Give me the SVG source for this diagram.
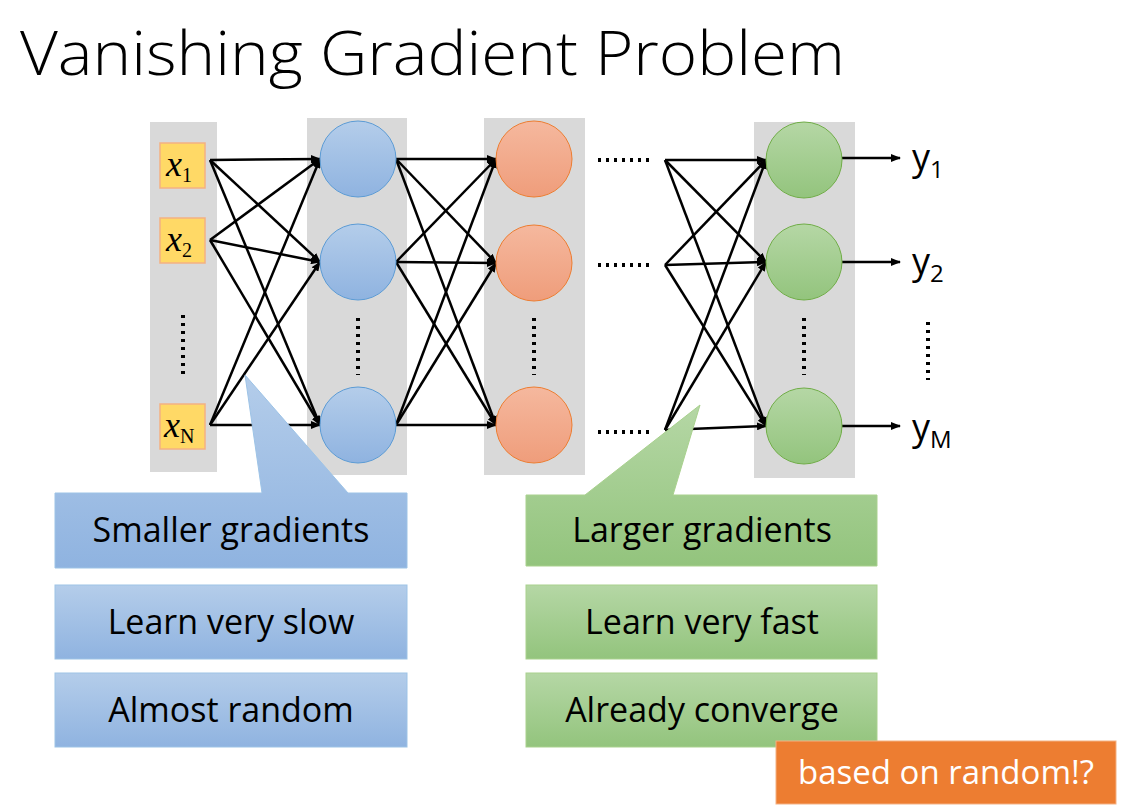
<svg xmlns="http://www.w3.org/2000/svg" width="1128" height="811" viewBox="0 0 1128 811">
<defs>
<linearGradient id="gb" x1="0" y1="0" x2="0" y2="1"><stop offset="0" stop-color="#b4cdea"/><stop offset="1" stop-color="#8fb3e0"/></linearGradient>
<linearGradient id="gg" x1="0" y1="0" x2="0" y2="1"><stop offset="0" stop-color="#b5d7a5"/><stop offset="1" stop-color="#93c47d"/></linearGradient>
<linearGradient id="go" x1="0" y1="0" x2="0" y2="1"><stop offset="0" stop-color="#f5b89e"/><stop offset="1" stop-color="#ef9d7b"/></linearGradient>
<marker id="ar" markerWidth="10" markerHeight="8" refX="9" refY="4" orient="auto" markerUnits="userSpaceOnUse"><path d="M0,0 L10,4 L0,8 z" fill="#000"/></marker>
<style>
.bar{fill:#d9d9d9}
.in{fill:#ffd966;stroke:#f4b183;stroke-width:1.5}
.b{fill:url(#gb);stroke:#5b9bd5}
.o{fill:url(#go);stroke:#ed7d31}
.g{fill:url(#gg);stroke:#70ad47}
.c line{stroke:#000;stroke-width:2.5;marker-end:url(#ar)}
.dot{stroke:#000;stroke-width:4;stroke-dasharray:3,5}
.t{font-family:"Open Sans",sans-serif;fill:#000}
.bb{fill:url(#gb);stroke:#9dc3e6}
.gb{fill:url(#gg);stroke:#a9d18e}
</style>
</defs>
<text x="20" y="75" class="t" font-size="60" font-weight="300" textLength="825" lengthAdjust="spacingAndGlyphs">Vanishing Gradient Problem</text>
<rect class="bar" x="150" y="122" width="67" height="350"/>
<rect class="bar" x="307" y="118" width="100" height="357"/>
<rect class="bar" x="484" y="118" width="101" height="357"/>
<rect class="bar" x="754" y="122" width="101" height="356"/>
<g id="x1"><rect class="in" x="160" y="143" width="45" height="45"/><text x="166" y="176" font-family="Liberation Serif,serif" font-style="italic" font-size="36">x<tspan font-size="20" font-style="normal" dy="6">1</tspan></text></g>
<g id="x2"><rect class="in" x="160" y="218" width="45" height="45"/><text x="166" y="251" font-family="Liberation Serif,serif" font-style="italic" font-size="36">x<tspan font-size="20" font-style="normal" dy="6">2</tspan></text></g>
<g id="xN"><rect class="in" x="160" y="404" width="45" height="45"/><text x="164" y="437" font-family="Liberation Serif,serif" font-style="italic" font-size="36">x<tspan font-size="20" font-style="normal" dy="6">N</tspan></text></g>
<line class="dot" x1="183" y1="315" x2="183" y2="374"/>
<line class="dot" x1="358" y1="318" x2="358" y2="375"/>
<line class="dot" x1="534" y1="318" x2="534" y2="375"/>
<line class="dot" x1="804" y1="318" x2="804" y2="375"/>
<line class="dot" x1="928" y1="322" x2="928" y2="380"/>
<line class="dot" x1="598" y1="160" x2="654" y2="160"/>
<line class="dot" x1="598" y1="265" x2="654" y2="265"/>
<line class="dot" x1="598" y1="432" x2="654" y2="432"/>
<g class="c">
<line x1="210" y1="160" x2="320" y2="159"/><line x1="210" y1="160" x2="320" y2="262"/><line x1="210" y1="160" x2="320" y2="425"/>
<line x1="210" y1="240" x2="320" y2="159"/><line x1="210" y1="240" x2="320" y2="262"/><line x1="210" y1="240" x2="320" y2="425"/>
<line x1="210" y1="425" x2="320" y2="159"/><line x1="210" y1="425" x2="320" y2="262"/><line x1="210" y1="425" x2="320" y2="425"/>
<line x1="396" y1="159" x2="496" y2="159"/><line x1="396" y1="159" x2="496" y2="263"/><line x1="396" y1="159" x2="496" y2="425"/>
<line x1="396" y1="262" x2="496" y2="159"/><line x1="396" y1="262" x2="496" y2="263"/><line x1="396" y1="262" x2="496" y2="425"/>
<line x1="396" y1="425" x2="496" y2="159"/><line x1="396" y1="425" x2="496" y2="263"/><line x1="396" y1="425" x2="496" y2="425"/>
<line x1="665" y1="160" x2="766" y2="160"/><line x1="665" y1="160" x2="766" y2="262"/><line x1="665" y1="160" x2="766" y2="426"/>
<line x1="665" y1="265" x2="766" y2="160"/><line x1="665" y1="265" x2="766" y2="262"/><line x1="665" y1="265" x2="766" y2="426"/>
<line x1="665" y1="430" x2="766" y2="160"/><line x1="665" y1="430" x2="766" y2="262"/><line x1="665" y1="430" x2="766" y2="426"/>
<line x1="842" y1="158" x2="900" y2="158"/><line x1="842" y1="262" x2="900" y2="262"/><line x1="842" y1="426" x2="900" y2="426"/>
</g>
<g id="h1"><circle class="b" cx="358" cy="159" r="38"/><circle class="b" cx="358" cy="262" r="38"/><circle class="b" cx="358" cy="425" r="38"/></g>
<g id="h2"><circle class="o" cx="534" cy="159" r="38"/><circle class="o" cx="534" cy="263" r="38"/><circle class="o" cx="534" cy="425" r="38"/></g>
<g id="out"><circle class="g" cx="804" cy="160" r="38"/><circle class="g" cx="804" cy="262" r="38"/><circle class="g" cx="804" cy="426" r="38"/></g>
<text x="912" y="170" class="t" font-size="36">y<tspan font-size="24" dy="8">1</tspan></text>
<text x="912" y="274" class="t" font-size="36">y<tspan font-size="24" dy="8">2</tspan></text>
<text x="912" y="440" class="t" font-size="36">y<tspan font-size="24" dy="8">M</tspan></text>
<g id="c1"><path class="bb" d="M55,493 H262 L245,375 L348,493 H407 V568 H55 Z"/><text x="231" y="542" class="t" font-size="34" text-anchor="middle">Smaller gradients</text></g>
<g id="c2"><rect class="bb" x="55" y="585" width="352" height="74"/><text x="231" y="634" class="t" font-size="34" text-anchor="middle">Learn very slow</text></g>
<g id="c3"><rect class="bb" x="55" y="673" width="352" height="74"/><text x="231" y="722" class="t" font-size="34" text-anchor="middle">Almost random</text></g>
<g id="c4"><path class="gb" d="M526,495 H585 L700,405 L673,495 H877 V566 H526 Z"/><text x="702" y="542" class="t" font-size="34" text-anchor="middle">Larger gradients</text></g>
<g id="c5"><rect class="gb" x="526" y="585" width="351" height="74"/><text x="702" y="634" class="t" font-size="34" text-anchor="middle">Learn very fast</text></g>
<g id="c6"><rect class="gb" x="526" y="673" width="351" height="74"/><text x="702" y="722" class="t" font-size="34" text-anchor="middle">Already converge</text></g>
<g id="c7"><rect x="776" y="741" width="340" height="63" fill="#ed7d31" stroke="#f4b183"/><text x="946" y="784" class="t" font-size="33" style="fill:#fff" text-anchor="middle">based on random!?</text></g>
</svg>
